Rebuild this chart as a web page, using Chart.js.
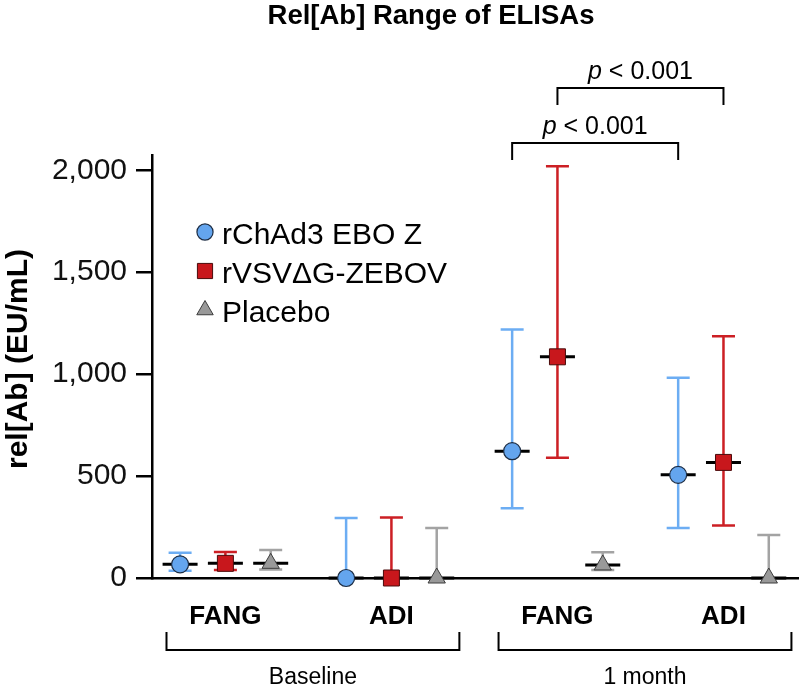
<!DOCTYPE html>
<html>
<head>
<meta charset="utf-8">
<script src="https://cdn.jsdelivr.net/npm/chart.js@4.4.1/dist/chart.umd.min.js"></script>
<style>
  html, body { margin: 0; padding: 0; background: #fff; }
  #wrap { width: 800px; height: 688px; }
</style>
</head>
<body>
<div id="wrap"><canvas id="myChart" width="800" height="688"></canvas></div>
<script>
// values (EU/mL): median plus low/high of the range
const categories = ["FANG", "ADI", "FANG", "ADI"];
const timepoints = ["Baseline", "1 month"];
const seriesNames = ["rChAd3 EBO Z", "rVSV\u0394G-ZEBOV", "Placebo"];

const chadMedian = [67, 0, 622, 506];
const chadLow = [36, 0, 342, 245];
const chadHigh = [124, 294, 1219, 982];

const vsvMedian = [72, 0, 1085, 567];
const vsvLow = [39, 0, 590, 257];
const vsvHigh = [127, 297, 2020, 1186];

const placeboMedian = [72, 0, 64, 0];
const placeboLow = [42, 0, 39, 0];
const placeboHigh = [137, 245, 126, 211];

const yTicks = [0, 500, 1000, 1500, 2000];
const pLabel = ["p", " < 0.001"];

const FONT = "'Liberation Sans', Arial, Helvetica, sans-serif";
const GROUP = 3.665; // distance between categories, in series slots

const xPos = (c, s) => c * GROUP + s;

const makeSet = (name, s, med, low, high, style) => Object.assign({
  label: name,
  data: med.map((v, i) => ({ x: xPos(i, s), y: v })),
  low: low,
  high: high,
  clip: false
}, style);

const datasets = [
  makeSet(seriesNames[0], 0, chadMedian, chadLow, chadHigh, {
    barColor: "#6cadf3", pointStyle: "circle", pointRadius: 8.5,
    backgroundColor: "#64a5ee", borderColor: "#1d2d44", borderWidth: 1.2
  }),
  makeSet(seriesNames[1], 1, vsvMedian, vsvLow, vsvHigh, {
    barColor: "#cc1f24", pointStyle: "rect", pointRadius: 11.3,
    backgroundColor: "#c8171c", borderColor: "#4a0b0b", borderWidth: 1
  }),
  makeSet(seriesNames[2], 2, placeboMedian, placeboLow, placeboHigh, {
    barColor: "#a3a3a3", pointStyle: "triangle", pointRadius: 10,
    backgroundColor: "#999999", borderColor: "#3c3c3c", borderWidth: 1
  })
];

// whiskers, caps and the black median ticks go under the markers
const errorBars = {
  id: "errorBars",
  beforeDatasetsDraw(chart) {
    const ctx = chart.ctx;
    const xs = chart.scales.x, ys = chart.scales.y;
    ctx.save();
    chart.data.datasets.forEach(ds => {
      ds.data.forEach((p, i) => {
        const px = xs.getPixelForValue(p.x);
        const lo = ys.getPixelForValue(ds.low[i]);
        const hi = ys.getPixelForValue(ds.high[i]);
        const md = ys.getPixelForValue(p.y);
        ctx.strokeStyle = ds.barColor;
        ctx.lineWidth = 2.5;
        ctx.beginPath();
        ctx.moveTo(px, lo); ctx.lineTo(px, hi);
        ctx.moveTo(px - 11.5, hi); ctx.lineTo(px + 11.5, hi);
        if (ds.low[i] > 0) { ctx.moveTo(px - 11.5, lo); ctx.lineTo(px + 11.5, lo); }
        ctx.stroke();
        ctx.strokeStyle = "#000";
        ctx.lineWidth = 3;
        ctx.beginPath();
        ctx.moveTo(px - 17.5, md); ctx.lineTo(px + 17.5, md);
        ctx.stroke();
      });
    });
    ctx.restore();
  }
};

const drawP = (ctx, cx, y) => {
  ctx.font = "italic 25px " + FONT;
  const w1 = ctx.measureText(pLabel[0]).width;
  ctx.font = "25px " + FONT;
  const w2 = ctx.measureText(pLabel[1]).width;
  const x0 = cx - (w1 + w2) / 2;
  ctx.textAlign = "left";
  ctx.font = "italic 25px " + FONT;
  ctx.fillText(pLabel[0], x0, y);
  ctx.font = "25px " + FONT;
  ctx.fillText(pLabel[1], x0 + w1, y);
};

const bracketDown = (ctx, x1, x2, y, leg) => {
  ctx.beginPath();
  ctx.moveTo(x1, y + leg); ctx.lineTo(x1, y); ctx.lineTo(x2, y); ctx.lineTo(x2, y + leg);
  ctx.stroke();
};

const extras = {
  id: "extras",
  afterDraw(chart) {
    const ctx = chart.ctx;
    const xs = chart.scales.x;
    ctx.save();
    ctx.fillStyle = "#000";
    ctx.strokeStyle = "#000";
    ctx.textBaseline = "alphabetic";

    // title
    ctx.font = "bold 27.5px " + FONT;
    ctx.textAlign = "center";
    ctx.fillText("Rel[Ab] Range of ELISAs", 431, 24);

    // y axis title
    ctx.save();
    ctx.translate(27, 359);
    ctx.rotate(-Math.PI / 2);
    ctx.font = "bold 30px " + FONT;
    ctx.fillText("rel[Ab] (EU/mL)", 0, 0);
    ctx.restore();

    // legend
    chart.data.datasets.forEach((ds, i) => {
      const ly = 232 + i * 39;
      ctx.fillStyle = ds.backgroundColor;
      ctx.strokeStyle = ds.borderColor;
      ctx.lineWidth = ds.borderWidth;
      Chart.helpers.drawPoint(ctx, {
        pointStyle: ds.pointStyle, radius: ds.pointRadius * 0.95, rotation: 0, borderWidth: ds.borderWidth
      }, 205, ly);
      ctx.fillStyle = "#000";
      ctx.font = "30px " + FONT;
      ctx.textAlign = "left";
      ctx.fillText(ds.label, 222, ly + 12);
    });

    // significance brackets between the 1 month groups
    ctx.strokeStyle = "#000";
    ctx.fillStyle = "#000";
    ctx.lineWidth = 2;
    const b1a = xs.getPixelForValue(xPos(2, 0)), b1b = xs.getPixelForValue(xPos(3, 0));
    const b2a = xs.getPixelForValue(xPos(2, 1)), b2b = xs.getPixelForValue(xPos(3, 1));
    bracketDown(ctx, b1a, b1b, 143, 17);
    bracketDown(ctx, b2a, b2b, 88, 17);
    drawP(ctx, (b1a + b1b) / 2, 134);
    drawP(ctx, (b2a + b2b) / 2, 79);

    // time point brackets under the axis
    timepoints.forEach((t, g) => {
      const xa = xs.getPixelForValue(xPos(g * 2, 0) - 0.3);
      const xb = xs.getPixelForValue(xPos(g * 2 + 1, 2) + 0.5);
      ctx.beginPath();
      ctx.moveTo(xa, 632); ctx.lineTo(xa, 650); ctx.lineTo(xb, 650); ctx.lineTo(xb, 632);
      ctx.stroke();
      ctx.font = "23px " + FONT;
      ctx.textAlign = "center";
      ctx.fillText(t, (xa + xb) / 2, 684);
    });
    ctx.restore();
  }
};

const ctx = document.getElementById("myChart").getContext("2d");
const chart = new Chart(ctx, {
  type: "scatter",
  data: { datasets: datasets },
  options: {
    responsive: false,
    animation: false,
    devicePixelRatio: 1,
    layout: { autoPadding: false, padding: { top: 155, right: 2, left: 0, bottom: 0 } },
    plugins: { legend: { display: false }, tooltip: { enabled: false }, title: { display: false } },
    scales: {
      x: {
        type: "linear",
        min: -0.62,
        max: 13.64,
        afterBuildTicks: s => { s.ticks = categories.map((c, i) => ({ value: xPos(i, 1) })); },
        afterFit: s => { s.height = 110; },
        ticks: {
          callback: (v, i) => categories[i],
          autoSkip: false, maxRotation: 0, padding: 15,
          color: "#000", font: { family: FONT, size: 26, weight: "bold" }
        },
        grid: { display: false },
        border: { color: "#000", width: 2.5 }
      },
      y: {
        min: 0,
        max: 2075,
        afterBuildTicks: s => { s.ticks = yTicks.map(v => ({ value: v })); },
        afterFit: s => { s.width = 152; },
        ticks: {
          callback: v => v.toLocaleString("en-US"),
          padding: 9,
          color: "#111", font: { family: FONT, size: 30 }
        },
        grid: { drawOnChartArea: false, drawTicks: true, tickLength: 16, color: "#000", lineWidth: 2.5 },
        border: { color: "#000", width: 2.5 }
      }
    }
  },
  plugins: [errorBars, extras]
});
</script>
</body>
</html>
